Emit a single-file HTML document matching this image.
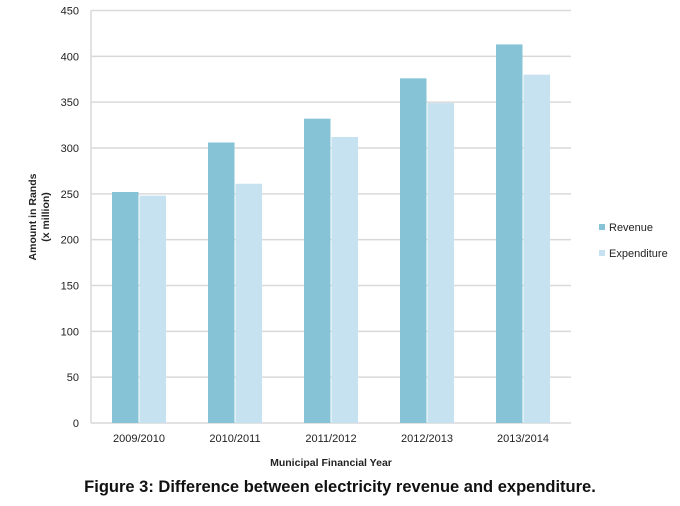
<!DOCTYPE html>
<html><head><meta charset="utf-8"><style>
body{margin:0;background:#fff;width:680px;height:501px;overflow:hidden}
svg text{font-family:"Liberation Sans",sans-serif}
</style></head><body>
<svg id="chart" width="680" height="501" xmlns="http://www.w3.org/2000/svg"></svg>
<script>
const categories=["2009/2010","2010/2011","2011/2012","2012/2013","2013/2014"];
const revenue=[252,306,332,376,413];
const expenditure=[248,261,312,349,380];
const yTicks=[0,50,100,150,200,250,300,350,400,450];
const NS="http://www.w3.org/2000/svg";
const svg=document.getElementById('chart');
const L=91,R=571,T=10.5,B=423;
const y=v=>B-(v/450)*(B-T);
const bw=(R-L)/categories.length;
const xc=i=>L+bw*(i+0.5);
function mk(tag,attrs,txt){const e=document.createElementNS(NS,tag);for(const k in attrs)e.setAttribute(k,attrs[k]);if(txt!==undefined)e.textContent=txt;svg.appendChild(e);return e;}
yTicks.forEach(t=>{
  const g=mk('line',{x1:L,x2:R,y1:y(t),y2:y(t),stroke:'#d9d9d9','stroke-width':1.5});
  
  
  const tx=mk('text',{x:L-12,y:y(t)+4,'text-anchor':'end','font-size':11,fill:'#222'},t);
  
  
});
const ax=mk('line',{x1:L,x2:L,y1:T,y2:B,stroke:'#d9d9d9','stroke-width':1.5});


categories.forEach((c,i)=>{
  const r=mk('rect',{x:xc(i)-27,y:y(revenue[i]),width:26.5,height:B-y(revenue[i]),fill:'#86c3d7'});
  
  
  const e=mk('rect',{x:xc(i)+0.5,y:y(expenditure[i]),width:26.5,height:B-y(expenditure[i]),fill:'#c6e2f0'});
  
  
  const t=mk('text',{x:xc(i),y:442,'text-anchor':'middle','font-size':11,fill:'#222'},c);
  
  
});
const xt=mk('text',{x:331,y:466,'text-anchor':'middle','font-size':10.5,'font-weight':'bold',fill:'#222'},'Municipal Financial Year');


const yt=mk('text',{transform:'translate(36,217) rotate(-90)','text-anchor':'middle','font-size':10.5,'font-weight':'bold',fill:'#222'});


const s1=document.createElementNS(NS,'tspan');s1.setAttribute('x',0);s1.setAttribute('dy',0);s1.textContent='Amount in Rands';yt.appendChild(s1);
const s2=document.createElementNS(NS,'tspan');s2.setAttribute('x',0);s2.setAttribute('dy',13);s2.textContent='(x million)';yt.appendChild(s2);
[['Revenue','#86c3d7',229],['Expenditure','#c6e2f0',255]].forEach(([n,c,yy])=>{
  const r=mk('rect',{x:599,y:yy-5,width:6,height:6,fill:c});
  
  
  const t=mk('text',{x:609,y:yy+2,'font-size':11,fill:'#222'},n);
  
  
});
const cap=mk('text',{x:340,y:492,'text-anchor':'middle','font-size':16.5,'font-weight':'bold',fill:'#111'},'Figure 3: Difference between electricity revenue and expenditure.');


</script>
</body></html>
